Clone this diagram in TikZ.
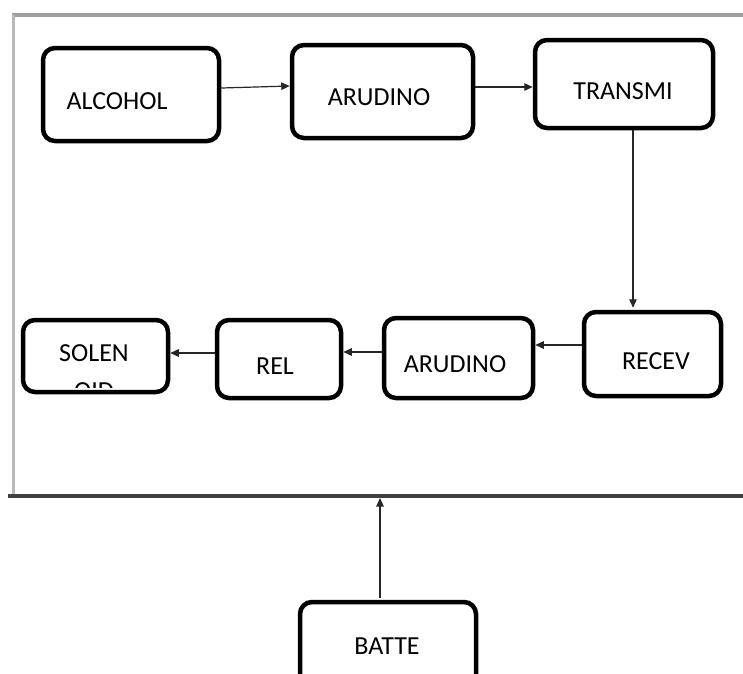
\documentclass[tikz,border=0pt]{standalone}
\usepackage{fontspec}
\setmainfont{Carlito}
\usetikzlibrary{arrows.meta,calc}
\begin{document}
\begin{tikzpicture}[x=1pt,y=-1pt,
  box/.style={draw=black, line width=4.5pt, rounded corners=12pt, fill=white, inner sep=0pt},
  lbl/.style={inner sep=0pt, font=\fontsize{26}{31}\selectfont, text=black},
  arr/.style={draw=black!85, line width=1.2pt, -{Triangle[length=8.5pt,width=7.5pt]}}]
\clip (0,0) rectangle (743,673);
\fill[white] (0,0) rectangle (743,673);
% frame
\draw[gray!75, line width=3.5pt] (12,15) -- (743,15);
\draw[gray!55, line width=3pt] (13,15) -- (13,497);
\draw[black!75, line width=4pt] (8,496) -- (743,496);
\coordinate (fb) at (380,498);
% boxes
\node[box, minimum width=176pt, minimum height=93pt] (alc) at (131,94.5) {};
\node[box, minimum width=181pt, minimum height=93pt] (ard1) at (382.5,91.5) {};
\node[box, minimum width=178pt, minimum height=88pt] (tx) at (624,84) {};
\node[box, minimum width=137pt, minimum height=84pt] (rcv) at (652.5,354) {};
\node[box, minimum width=149pt, minimum height=80pt] (ard2) at (458.5,358) {};
\node[box, minimum width=124pt, minimum height=78pt] (rel) at (279,359) {};
\node[box, minimum width=145pt, minimum height=72pt] (sol) at (95.5,356) {};
\node[box, minimum width=176pt, minimum height=88pt] (bat) at (388,646) {};
% labels
\node[lbl] (alcT) at (117,101.5) {ALCOHOL};
\node[lbl] (ard1T) at (379,97.5) {ARUDINO};
\node[lbl] (txT) at (623,91) {TRANSMI};
\node[lbl] (rcvT) at (656,361) {RECEV};
\node[lbl] (ard2T) at (455,364) {ARUDINO};
\node[lbl] (relT) at (275,366) {REL};
\node[lbl] (solT) at (94,353.5) {SOLEN};
\begin{scope}
\clip (20,320) rectangle (170,387);
\node[lbl] (solT2) at (94,391) {OID};
\end{scope}
\node[lbl] (batT) at (387,646) {BATTE};
% connectors
\draw[arr] ($(alc.east)+(0,-6.5)$) -- ($(ard1.west)+(0,-5.5)$);
\draw[arr] ($(ard1.east)+(0,-4.5)$) -- ($(tx.west)+(0,3)$);
\draw[arr] ($(tx.south)+(9,0)$) -- ($(rcv.north)+(-19.5,-2)$);
\draw[arr] ($(rcv.west)+(0,-9)$) -- ($(ard2.east)+(0,-13)$);
\draw[arr] ($(ard2.west)+(0,-6)$) -- ($(rel.east)+(0,-7)$);
\draw[arr] ($(rel.west)+(0,-6)$) -- ($(sol.east)+(0,-3)$);
\draw[arr] ($(bat.north)+(-8,-2)$) -- (fb);
\end{tikzpicture}
\end{document}
